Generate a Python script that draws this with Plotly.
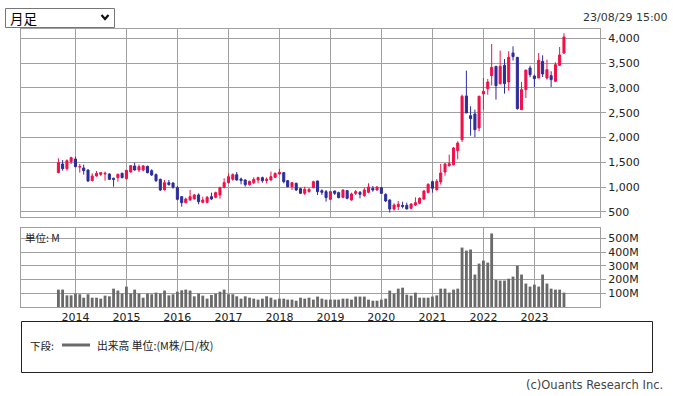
import plotly.graph_objects as go
import pandas as pd

# ---- data (monthly candles, 2013-09 .. 2023-08) ----
start_month = "2013-09-01"
n_months = 120
months = pd.date_range(start_month, periods=n_months, freq="MS").strftime("%Y-%m-%d").tolist()

opens = [1293, 1467, 1373, 1514, 1568, 1405, 1387, 1346, 1131, 1225,
         1259, 1266, 1266, 1178, 1192, 1279, 1172, 1306, 1427, 1346,
         1346, 1420, 1333, 1252, 1158, 950, 1091, 1084, 990, 809,
         688, 742, 762, 843, 695, 695, 809, 796, 843, 997,
         1091, 1158, 1252, 1165, 1145, 1051, 1091, 1145, 1192, 1131,
         1145, 1199, 1266, 1293, 1131, 1010, 1078, 970, 876, 910,
         990, 1125, 930, 910, 755, 923, 890, 796, 930, 742,
         876, 896, 829, 896, 977, 943, 990, 856, 742, 560,
         607, 634, 634, 574, 641, 675, 762, 896, 1111, 950,
         1105, 1306, 1434, 1454, 1736, 1958, 2838, 2441, 2475, 2193,
         2878, 2985, 3247, 3435, 3086, 3455, 3120, 3704, 3617, 2562,
         2965, 3402, 3241, 3200, 3536, 3200, 3247, 3133, 3455, 3704]
highs = [1581, 1548, 1561, 1615, 1615, 1467, 1454, 1360, 1279, 1326,
         1306, 1313, 1279, 1192, 1273, 1293, 1346, 1447, 1494, 1454,
         1447, 1434, 1360, 1279, 1172, 1145, 1145, 1098, 1024, 822,
         789, 943, 863, 876, 809, 822, 890, 910, 1010, 1178,
         1279, 1279, 1306, 1192, 1158, 1131, 1199, 1212, 1212, 1199,
         1313, 1293, 1367, 1306, 1145, 1105, 1091, 990, 1010, 977,
         1131, 1131, 957, 943, 923, 930, 910, 957, 943, 890,
         943, 923, 990, 1078, 1024, 1017, 1004, 876, 755, 675,
         722, 708, 688, 675, 796, 796, 943, 1078, 1131, 1165,
         1467, 1487, 1655, 1810, 1924, 2864, 3348, 2629, 2562, 2844,
         3200, 3180, 3885, 3435, 3751, 3583, 3738, 3838, 3617, 3120,
         3361, 3449, 3267, 3704, 3657, 3570, 3335, 3516, 3825, 4100]
lows = [1279, 1333, 1333, 1467, 1400, 1293, 1252, 1105, 1118, 1212,
        1225, 1131, 1145, 1010, 1111, 1178, 1158, 1293, 1333, 1306,
        1320, 1279, 1225, 1105, 923, 930, 1031, 970, 735, 607,
        675, 728, 755, 655, 675, 675, 742, 775, 769, 977,
        1078, 1131, 1131, 1057, 1010, 1031, 1064, 1078, 1091, 1078,
        1131, 1185, 1252, 1078, 997, 943, 923, 863, 843, 890,
        977, 843, 843, 708, 742, 843, 775, 775, 755, 728,
        843, 775, 809, 876, 910, 930, 863, 702, 490, 527,
        540, 574, 554, 554, 621, 655, 742, 876, 890, 930,
        1051, 1232, 1413, 1440, 1561, 1911, 2495, 2038, 2011, 2126,
        2562, 2864, 3052, 2764, 3066, 2885, 2945, 3551, 2562, 2562,
        2797, 3214, 3019, 3200, 3220, 3167, 3019, 3120, 3449, 3684]
closes = [1494, 1373, 1534, 1595, 1413, 1413, 1333, 1125, 1225, 1279,
          1293, 1279, 1158, 1158, 1259, 1192, 1340, 1434, 1346, 1413,
          1427, 1293, 1246, 1131, 943, 1091, 1051, 997, 755, 688,
          762, 809, 843, 708, 742, 796, 762, 890, 990, 1091,
          1212, 1252, 1145, 1131, 1051, 1118, 1158, 1192, 1131, 1158,
          1212, 1279, 1299, 1111, 1010, 1091, 943, 876, 957, 957,
          1111, 910, 896, 789, 910, 876, 789, 943, 775, 863,
          910, 856, 943, 1004, 943, 1004, 876, 722, 560, 641,
          655, 614, 560, 661, 688, 775, 923, 1057, 977, 1118,
          1286, 1467, 1474, 1790, 1890, 2831, 2495, 2381, 2159, 2831,
          2932, 3120, 3415, 3046, 3435, 3086, 3617, 3630, 2582, 2965,
          3361, 3267, 3187, 3556, 3281, 3368, 3167, 3469, 3664, 4026]
volumes_m = [127, 127, 85, 85, 98, 93, 68, 93, 68, 68,
             61, 83, 78, 134, 120, 98, 149, 98, 127, 98,
             68, 98, 93, 105, 98, 120, 85, 93, 112, 122,
             127, 120, 78, 98, 83, 61, 88, 98, 112, 127,
             93, 93, 78, 61, 78, 68, 61, 54, 61, 78,
             68, 54, 61, 61, 54, 54, 46, 68, 61, 68,
             54, 76, 61, 54, 54, 54, 54, 61, 61, 54,
             76, 76, 76, 54, 46, 46, 54, 61, 120, 98,
             134, 141, 90, 83, 105, 68, 68, 68, 76, 85,
             134, 134, 105, 127, 134, 434, 412, 420, 237, 317,
             339, 324, 537, 198, 193, 193, 207, 222, 302, 237,
             171, 149, 163, 149, 237, 171, 134, 127, 127, 105]

year_ticks = ["2014-01-01", "2015-01-01", "2016-01-01", "2017-01-01", "2018-01-01",
              "2019-01-01", "2020-01-01", "2021-01-01", "2022-01-01", "2023-01-01"]
year_labels = ["2014", "2015", "2016", "2017", "2018", "2019", "2020", "2021", "2022", "2023"]
price_ticks = [500, 1000, 1500, 2000, 2500, 3000, 3500, 4000]
price_labels = ["500", "1,000", "1,500", "2,000", "2,500", "3,000", "3,500", "4,000"]
vol_ticks = [100, 200, 300, 400, 500]
vol_labels = ["100M", "200M", "300M", "400M", "500M"]

# ---- style ----
W, H = 673, 396
ML, MR, MT, MB = 21, 73, 29, 89
PW, PH = W - ML - MR, H - MT - MB
RED = "#f0104a"
BLUE = "#2c2c9c"
GRID = "#a0a0a0"
VOLC = "#6a6a6a"
NUM_FONT = "DejaVu Sans"
JP_FONT = "Noto Sans CJK JP"


def pxx(x):
    return (x - ML) / PW


def pxy(y):
    return (MT + PH - y) / PH


fig = go.Figure()
fig.add_trace(go.Candlestick(
    x=months, open=opens, high=highs, low=lows, close=closes,
    increasing=dict(line=dict(color=RED, width=1), fillcolor=RED),
    decreasing=dict(line=dict(color=BLUE, width=1), fillcolor=BLUE),
    whiskerwidth=0, xaxis="x", yaxis="y", showlegend=False, hoverinfo="skip"))
fig.add_trace(go.Bar(
    x=months, y=volumes_m, marker=dict(color=VOLC, line=dict(width=0)),
    xaxis="x2", yaxis="y2", showlegend=False, hoverinfo="skip"))

xrange = ["2012-12-07", "2024-04-15"]
axis_common = dict(showline=True, linecolor=GRID, linewidth=1, mirror=True,
                   showgrid=True, gridcolor=GRID, gridwidth=1, zeroline=False)

fig.update_layout(
    width=W, height=H,
    margin=dict(l=ML, r=MR, t=MT, b=MB, pad=0),
    paper_bgcolor="white", plot_bgcolor="white",
    bargap=0.28, boxgap=0.25,
    font=dict(family=NUM_FONT, size=11, color="#333333"),
    xaxis=dict(domain=[0, 1], anchor="y", type="date", range=xrange,
               tickvals=year_ticks, ticktext=year_labels, showticklabels=False,
               rangeslider=dict(visible=False), ticks="", **axis_common),
    xaxis2=dict(domain=[0, 1], anchor="y2", type="date", range=xrange, matches="x",
                tickvals=year_ticks, ticktext=year_labels, showticklabels=True,
                ticks="", tickfont=dict(size=11, color="#222222"), **axis_common),
    yaxis=dict(domain=[pxy(217), 1], anchor="x", side="right", range=[399, 4187],
               tickvals=price_ticks, ticktext=price_labels, ticks="outside", ticklen=5,
               tickcolor=GRID, tickfont=dict(size=11, color="#222222"), **axis_common),
    yaxis2=dict(domain=[0, pxy(228)], anchor="x2", side="right", range=[0, 577],
                tickvals=vol_ticks, ticktext=vol_labels, ticks="outside", ticklen=5,
                tickcolor=GRID, tickfont=dict(size=11, color="#222222"), **axis_common),
)

shapes = []
annotations = []
# dropdown
shapes.append(dict(type="rect", xref="paper", yref="paper",
                   x0=pxx(5.5), x1=pxx(114.5), y0=pxy(27.5), y1=pxy(8.5),
                   line=dict(color="#767676", width=1), fillcolor="white", layer="above"))
shapes.append(dict(type="path", xref="paper", yref="paper",
                   path="M %f %f L %f %f L %f %f" % (pxx(101.5), pxy(15), pxx(105), pxy(19),
                                                     pxx(108.5), pxy(15)),
                   line=dict(color="#111111", width=2.2)))
annotations.append(dict(text="月足", xref="paper", yref="paper", x=pxx(8), y=pxy(18),
                        xanchor="left", yanchor="middle", showarrow=False,
                        font=dict(family=JP_FONT, size=13.5, color="#000000")))
# date stamp
annotations.append(dict(text="23/08/29 15:00", xref="paper", yref="paper", x=pxx(670), y=pxy(17),
                        xanchor="right", yanchor="middle", showarrow=False,
                        font=dict(family=NUM_FONT, size=11, color="#333333")))
# volume unit label
annotations.append(dict(text="単位: M", xref="paper", yref="paper", x=pxx(23), y=pxy(237),
                        xanchor="left", yanchor="middle", showarrow=False,
                        font=dict(family=JP_FONT, size=10.5, color="#222222")))
# legend box
shapes.append(dict(type="rect", xref="paper", yref="paper",
                   x0=pxx(21.5), x1=pxx(652.5), y0=pxy(372.5), y1=pxy(321.5),
                   line=dict(color="#222222", width=1), fillcolor="rgba(0,0,0,0)"))
annotations.append(dict(text="下段:", xref="paper", yref="paper", x=pxx(28), y=pxy(345),
                        xanchor="left", yanchor="middle", showarrow=False,
                        font=dict(family=JP_FONT, size=10.5, color="#222222")))
shapes.append(dict(type="line", xref="paper", yref="paper",
                   x0=pxx(62), x1=pxx(90), y0=pxy(345), y1=pxy(345),
                   line=dict(color=VOLC, width=3)))
annotations.append(dict(text="出来高 単位:(M株/口/枚)", xref="paper", yref="paper", x=pxx(95), y=pxy(345),
                        xanchor="left", yanchor="middle", showarrow=False,
                        font=dict(family=JP_FONT, size=10.8, color="#222222")))
# copyright
annotations.append(dict(text="(c)Ouants Research Inc.", xref="paper", yref="paper", x=pxx(665), y=pxy(385),
                        xanchor="right", yanchor="middle", showarrow=False,
                        font=dict(family=NUM_FONT, size=11.5, color="#444444")))

fig.update_layout(shapes=shapes, annotations=annotations)
fig.write_html("out.html", config={"displayModeBar": False},
               post_script="document.body.style.margin='0';document.body.style.overflow='hidden';")
